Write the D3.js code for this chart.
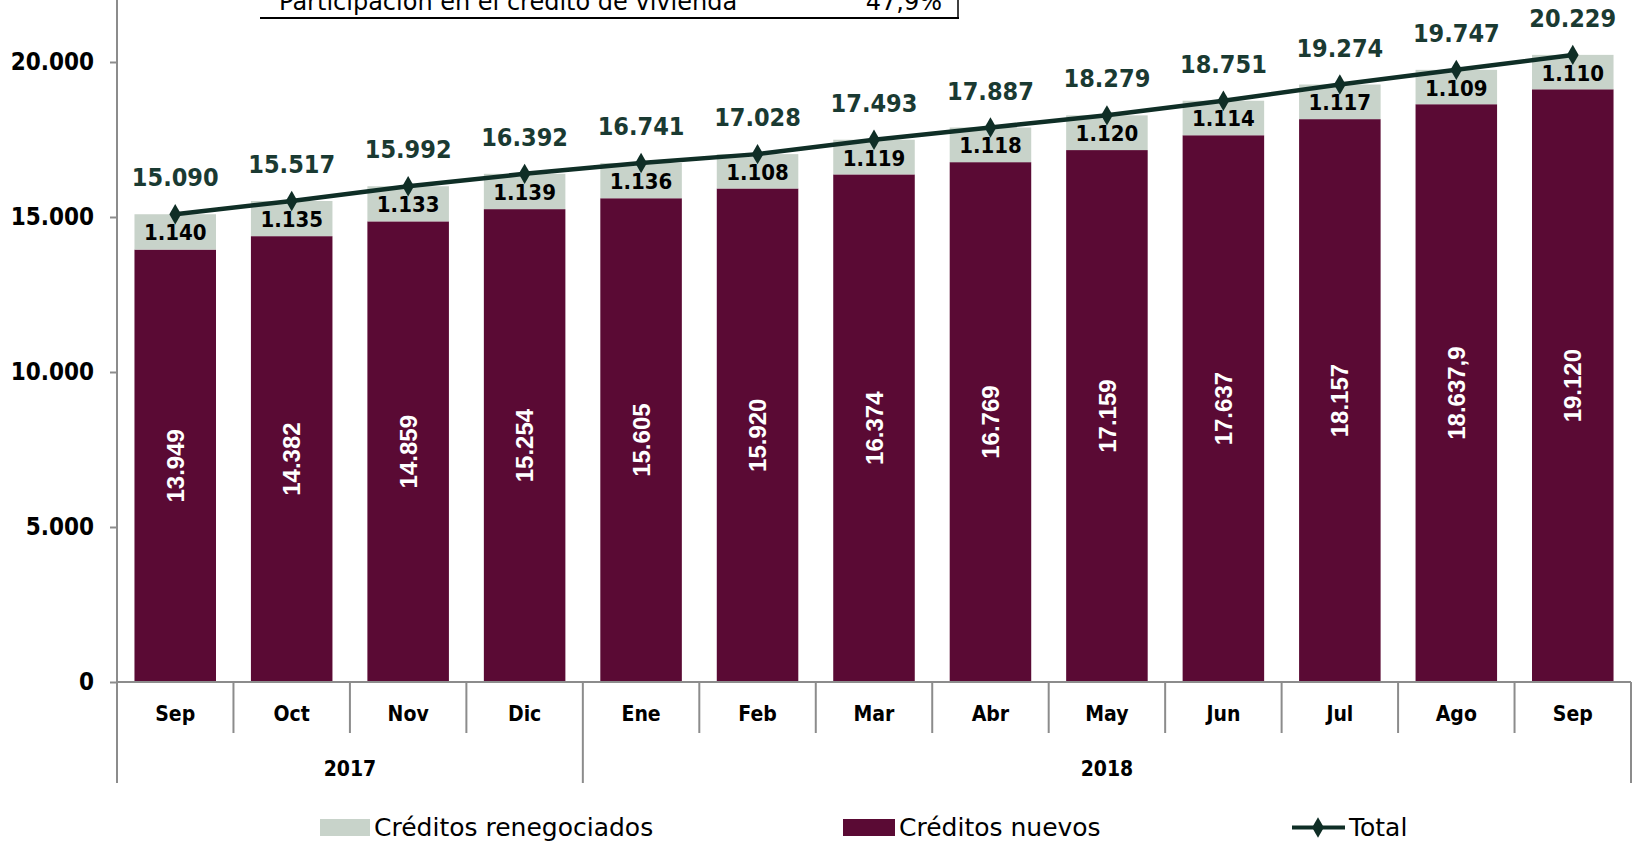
<!DOCTYPE html>
<html>
<head>
<meta charset="utf-8">
<script src="https://cdn.jsdelivr.net/npm/d3@7"></script>
<style>
  html, body { margin: 0; padding: 0; background: #fff; }
  svg { display: block; }
</style>
</head>
<body>
<div id="grafico"></div>
<script>
// Datos del gráfico
const meses = ['Sep', 'Oct', 'Nov', 'Dic', 'Ene', 'Feb', 'Mar', 'Abr', 'May', 'Jun', 'Jul', 'Ago', 'Sep'];
const anios = [
  { etiqueta: '2017', desde: 0, hasta: 4 },
  { etiqueta: '2018', desde: 4, hasta: 13 }
];
const creditosNuevos = [13949, 14382, 14859, 15254, 15605, 15920, 16374, 16769, 17159, 17637, 18157, 18637.9, 19120];
const creditosRenegociados = [1140, 1135, 1133, 1139, 1136, 1108, 1119, 1118, 1120, 1114, 1117, 1109, 1110];
const totales = [15090, 15517, 15992, 16392, 16741, 17028, 17493, 17887, 18279, 18751, 19274, 19747, 20229];
const ticksY = [0, 5000, 10000, 15000, 20000];

const width = 1632;
const height = 841;

const colorNuevos = '#5a0a34';
const colorReneg = '#c8d3ca';
const colorTotal = '#0f2e26';
const colorEje = '#8c8c8c';
const fuente = '"DejaVu Sans Condensed", "DejaVu Sans", sans-serif';
const fuenteTexto = '"DejaVu Sans", sans-serif';

// Formato español: punto de miles, coma decimal
const es = d3.formatLocale({ decimal: ',', thousands: '.', grouping: [3], currency: ['', ''] });
const fmt = v => Number.isInteger(v) ? es.format(',.0f')(v) : es.format(',.1f')(v);

const svg = d3.select('#grafico')
  .append('svg')
  .attr('width', width)
  .attr('height', height);

const x = d3.scaleBand()
  .domain(d3.range(meses.length))
  .range([117, 1631])
  .paddingInner(0.3)
  .paddingOuter(0.15);

const y = d3.scaleLinear()
  .domain([0, 20000])
  .range([682, 62]);

const anchoCat = (1631 - 117) / meses.length;

// Fragmento de tabla cortado arriba
svg.append('text')
  .attr('x', 279).attr('y', 10)
  .attr('font-family', fuenteTexto).attr('font-size', 24)
  .attr('fill', '#000')
  .text('Participación en el crédito de vivienda');
svg.append('text')
  .attr('x', 942).attr('y', 10)
  .attr('text-anchor', 'end')
  .attr('font-family', fuenteTexto).attr('font-size', 24)
  .attr('fill', '#000')
  .text('47,9%');
svg.append('line')
  .attr('x1', 260).attr('x2', 959).attr('y1', 18).attr('y2', 18)
  .attr('stroke', '#000').attr('stroke-width', 2);
svg.append('line')
  .attr('x1', 958).attr('x2', 958).attr('y1', 0).attr('y2', 18)
  .attr('stroke', '#000').attr('stroke-width', 1.5);

// Eje Y
const ejeY = svg.append('g')
  .attr('transform', 'translate(117,0)')
  .call(d3.axisLeft(y).tickValues(ticksY).tickSize(7).tickPadding(16).tickFormat(d => es.format(',.0f')(d)));
ejeY.select('.domain').remove();
ejeY.selectAll('.tick line').attr('stroke', colorEje).attr('stroke-width', 2);
ejeY.selectAll('.tick text')
  .attr('font-family', fuente).attr('font-size', 24).attr('font-weight', 'bold').attr('fill', '#000');
svg.append('line')
  .attr('x1', 117).attr('x2', 117).attr('y1', 0).attr('y2', y(0))
  .attr('stroke', colorEje).attr('stroke-width', 2);

// Barras apiladas
const barras = svg.append('g');
meses.forEach((m, i) => {
  const x0 = x(i);
  const bw = x.bandwidth();
  barras.append('rect')
    .attr('x', x0).attr('width', bw)
    .attr('y', y(creditosNuevos[i]))
    .attr('height', y(0) - y(creditosNuevos[i]))
    .attr('fill', colorNuevos);
  barras.append('rect')
    .attr('x', x0).attr('width', bw)
    .attr('y', y(creditosNuevos[i] + creditosRenegociados[i]))
    .attr('height', y(creditosNuevos[i]) - y(creditosNuevos[i] + creditosRenegociados[i]))
    .attr('fill', colorReneg);

  // Etiqueta créditos nuevos (vertical)
  const cx = x0 + bw / 2;
  const cy = (y(0) + y(creditosNuevos[i])) / 2;
  barras.append('text')
    .attr('transform', `translate(${cx},${cy}) rotate(-90)`)
    .attr('text-anchor', 'middle')
    .attr('dy', '0.36em')
    .attr('font-family', '"Liberation Sans", Arial, sans-serif')
    .attr('font-size', 24).attr('font-weight', 'bold')
    .attr('fill', '#fff')
    .text(fmt(creditosNuevos[i]));

  // Etiqueta créditos renegociados
  const ry = (y(creditosNuevos[i]) + y(creditosNuevos[i] + creditosRenegociados[i])) / 2;
  barras.append('text')
    .attr('x', cx).attr('y', ry + 8.5)
    .attr('text-anchor', 'middle')
    .attr('font-family', fuente).attr('font-size', 22).attr('font-weight', 'bold')
    .attr('fill', '#000')
    .text(fmt(creditosRenegociados[i]));
});

// Línea total
const linea = d3.line()
  .x((d, i) => x(i) + x.bandwidth() / 2)
  .y(d => y(d));
svg.append('path')
  .datum(totales)
  .attr('d', linea)
  .attr('fill', 'none')
  .attr('stroke', colorTotal)
  .attr('stroke-width', 4.5);

const diamante = d3.symbol().type(d3.symbolDiamond).size(120);
totales.forEach((t, i) => {
  const px = x(i) + x.bandwidth() / 2;
  svg.append('path')
    .attr('d', diamante())
    .attr('transform', `translate(${px},${y(t)})`)
    .attr('fill', colorTotal);
  svg.append('text')
    .attr('x', px).attr('y', y(t) - 28)
    .attr('text-anchor', 'middle')
    .attr('font-family', fuente).attr('font-size', 25).attr('font-weight', 'bold')
    .attr('fill', '#1a3a32')
    .text(fmt(t));
});

// Eje X con categorías y años
const ejeX = svg.append('g')
  .attr('transform', `translate(0,${y(0)})`)
  .call(d3.axisBottom(x).tickSize(0).tickPadding(24).tickFormat(i => meses[i]));
ejeX.select('.domain').remove();
ejeX.selectAll('.tick text')
  .attr('font-family', fuente).attr('font-size', 21).attr('font-weight', 'bold').attr('fill', '#000');

svg.append('line')
  .attr('x1', 117).attr('x2', 1631).attr('y1', y(0)).attr('y2', y(0))
  .attr('stroke', colorEje).attr('stroke-width', 2);

d3.range(meses.length + 1).forEach(i => {
  const esAnio = anios.some(a => a.desde === i || a.hasta === i);
  const bx = 117 + i * anchoCat;
  svg.append('line')
    .attr('x1', bx).attr('x2', bx)
    .attr('y1', y(0)).attr('y2', esAnio ? 783 : 733)
    .attr('stroke', colorEje).attr('stroke-width', 2);
});

anios.forEach(a => {
  const ax = 117 + (a.desde + a.hasta) / 2 * anchoCat;
  svg.append('text')
    .attr('x', ax).attr('y', 776)
    .attr('text-anchor', 'middle')
    .attr('font-family', fuente).attr('font-size', 21).attr('font-weight', 'bold')
    .attr('fill', '#000')
    .text(a.etiqueta);
});

// Leyenda
const leyenda = svg.append('g');
leyenda.append('rect').attr('x', 320).attr('y', 819).attr('width', 50).attr('height', 17).attr('fill', colorReneg);
leyenda.append('text').attr('x', 374).attr('y', 836)
  .attr('font-family', fuenteTexto).attr('font-size', 25).attr('fill', '#000')
  .text('Créditos renegociados');
leyenda.append('rect').attr('x', 843).attr('y', 819).attr('width', 52).attr('height', 17).attr('fill', colorNuevos);
leyenda.append('text').attr('x', 899).attr('y', 836)
  .attr('font-family', fuenteTexto).attr('font-size', 25).attr('fill', '#000')
  .text('Créditos nuevos');
leyenda.append('line').attr('x1', 1292).attr('x2', 1345).attr('y1', 827.5).attr('y2', 827.5)
  .attr('stroke', colorTotal).attr('stroke-width', 4);
leyenda.append('path').attr('d', diamante()).attr('transform', 'translate(1318,827.5)').attr('fill', colorTotal);
leyenda.append('text').attr('x', 1349).attr('y', 836)
  .attr('font-family', fuenteTexto).attr('font-size', 25).attr('fill', '#000')
  .text('Total');
</script>
</body>
</html>
